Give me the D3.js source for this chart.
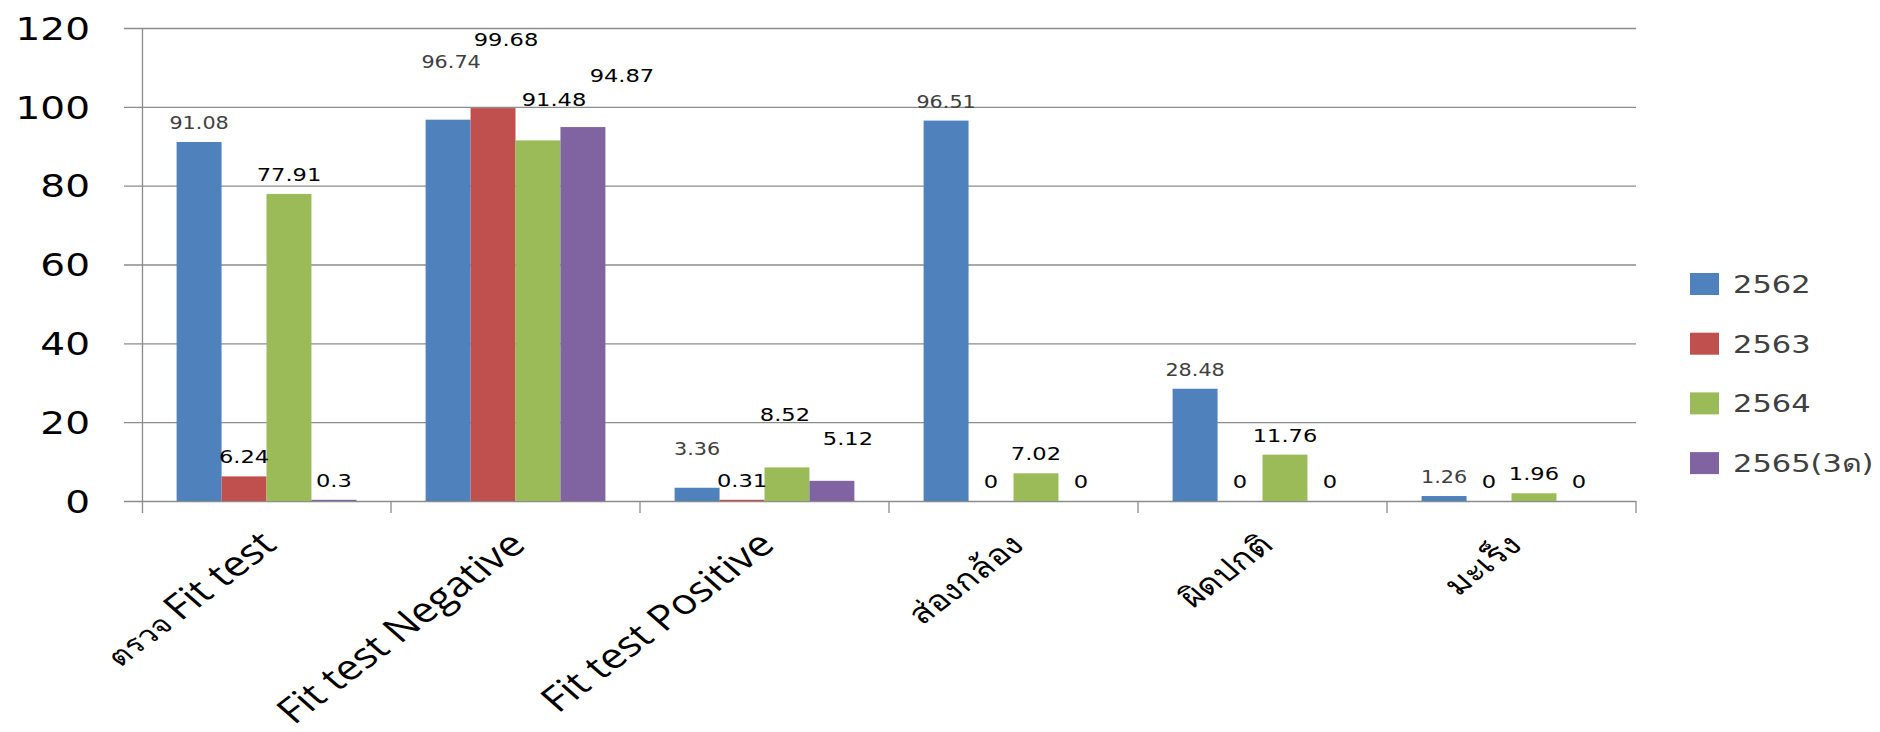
<!DOCTYPE html>
<html>
<head>
<meta charset="utf-8">
<script src="https://cdn.jsdelivr.net/npm/d3@7"></script>
<style>
  body { margin: 0; background: #fff; }
  svg { display: block; }
</style>
</head>
<body>
<div id="vis"></div>
<script>
// data
const categories = ["ตรวจ Fit test", "Fit test Negative", "Fit test Positive", "ส่องกล้อง", "ผิดปกติ", "มะเร็ง"];
const seriesNames = ["2562", "2563", "2564", "2565(3ด)"];
const values2562 = [91.08, 96.74, 3.36, 96.51, 28.48, 1.26];
const values2563 = [6.24, 99.68, 0.31, 0, 0, 0];
const values2564 = [77.91, 91.48, 8.52, 7.02, 11.76, 1.96];
const values2565 = [0.3, 94.87, 5.12, 0, 0, 0];
const yTicks = [0, 20, 40, 60, 80, 100, 120];

const COLORS = ["#4f81bd", "#c0504d", "#9bbb59", "#8064a2"];

// frame
const FRAME_WIDTH = 1880;
const FRAME_HEIGHT = 732;
const PLOT = {left: 142, right: 1636, top: 28, bottom: 501};
const SX = 1.22; // text in the picture is stretched sideways

// labels that were dragged around in the original, [dx, dy]
const LABEL_NUDGE = {
  "0,1": [3, -39], "1,1": [13, -49], "2,1": [16, -21], "3,1": [39, -32],
  "0,2": [0, -20], "2,2": [-2, -33], "3,2": [16, -23]
};

const allSeries = [values2562, values2563, values2564, values2565];

const FRAME = d3.select("#vis")
  .append("svg")
  .attr("width", FRAME_WIDTH)
  .attr("height", FRAME_HEIGHT);

const X_SCALE = d3.scaleBand()
  .domain(categories)
  .range([PLOT.left, PLOT.right])
  .padding(0);

const X_INNER = d3.scaleBand()
  .domain(d3.range(seriesNames.length))
  .range([0, X_SCALE.bandwidth()])
  .paddingInner(0)
  .paddingOuter(0.77);

const Y_SCALE = d3.scaleLinear()
  .domain([0, 120])
  .range([PLOT.bottom, PLOT.top]);

// gridlines
FRAME.append("g")
  .selectAll("line")
  .data(yTicks)
  .enter()
  .append("line")
    .attr("x1", PLOT.left - 18)
    .attr("x2", PLOT.right)
    .attr("y1", (d) => Y_SCALE(d) + 0.5)
    .attr("y2", (d) => Y_SCALE(d) + 0.5)
    .attr("stroke", "#8c8c8c")
    .attr("stroke-width", 1.3);

// y axis
const yAxis = FRAME.append("g")
  .attr("transform", "translate(" + PLOT.left + ",0)")
  .call(d3.axisLeft(Y_SCALE).tickValues(yTicks).tickSize(0).tickPadding(0));
yAxis.select(".domain").remove();
yAxis.selectAll("text")
  .attr("x", 0)
  .attr("dy", "0.35em")
  .attr("transform", "translate(-52,0) scale(" + SX + ",1)")
  .attr("font-family", "DejaVu Sans, Verdana, sans-serif")
  .attr("font-size", 32)
  .attr("fill", "#000");

FRAME.append("line")
  .attr("x1", PLOT.left + 0.5).attr("x2", PLOT.left + 0.5)
  .attr("y1", PLOT.top).attr("y2", PLOT.bottom + 12)
  .attr("stroke", "#8c8c8c")
  .attr("stroke-width", 1.3);

// category separators below the axis
const edges = categories.map((c) => X_SCALE(c)).concat([PLOT.right]);
FRAME.append("g")
  .selectAll("line")
  .data(edges.slice(1))
  .enter()
  .append("line")
    .attr("x1", (d) => d).attr("x2", (d) => d)
    .attr("y1", PLOT.bottom).attr("y2", PLOT.bottom + 12)
    .attr("stroke", "#8c8c8c")
    .attr("stroke-width", 1.3);

// bars
const barData = [];
allSeries.forEach((vals, s) => {
  vals.forEach((v, c) => {
    barData.push({s: s, c: c, value: v});
  });
});

FRAME.append("g")
  .selectAll("rect")
  .data(barData)
  .enter()
  .append("rect")
    .attr("x", (d) => X_SCALE(categories[d.c]) + X_INNER(d.s))
    .attr("y", (d) => Y_SCALE(d.value))
    .attr("width", X_INNER.bandwidth())
    .attr("height", (d) => PLOT.bottom - Y_SCALE(d.value))
    .attr("fill", (d) => COLORS[d.s]);

// bar value labels
FRAME.append("g")
  .selectAll("text")
  .data(barData)
  .enter()
  .append("text")
    .attr("text-anchor", "middle")
    .attr("font-family", "DejaVu Sans, Verdana, sans-serif")
    .attr("font-size", (d) => d.s === 0 ? 17 : 18.5)
    .attr("fill", (d) => d.s === 0 ? "#404040" : "#000")
    .attr("transform", (d) => {
      const nudge = LABEL_NUDGE[d.s + "," + d.c] || [0, 0];
      const cx = X_SCALE(categories[d.c]) + X_INNER(d.s) + X_INNER.bandwidth() / 2 + nudge[0];
      const cy = Y_SCALE(d.value) - 13 + nudge[1];
      return "translate(" + cx + "," + cy + ") scale(" + SX + ",1)";
    })
    .text((d) => String(d.value));

// category labels, rotated
const catLabels = FRAME.append("g")
  .selectAll("text")
  .data(categories)
  .enter()
  .append("text")
    .attr("text-anchor", "end")
    .attr("font-family", "Open Sans, Noto Sans, DejaVu Sans, sans-serif")
    .attr("fill", "#000")
    .attr("transform", (d) => {
      const cx = X_SCALE(d) + X_SCALE.bandwidth() / 2 + 12;
      return "translate(" + cx + ",547) scale(" + SX + ",1) rotate(-43)";
    });

catLabels.each(function(d) {
  const t = d3.select(this);
  const parts = d.split(" ");
  if (/[\u0E00-\u0E7F]/.test(parts[0])) {
    const isMixed = parts.length > 1;
    t.append("tspan").attr("font-size", isMixed ? 26 : 29).text(parts[0] + (isMixed ? " " : ""));
    if (isMixed) {
      t.append("tspan").attr("font-size", 35).text(parts.slice(1).join(" "));
    }
  } else {
    t.append("tspan").attr("font-size", 35).text(d);
  }
});

// legend
const legend = FRAME.append("g")
  .selectAll("g")
  .data(seriesNames)
  .enter()
  .append("g")
    .attr("transform", (d, i) => "translate(1690," + (284 + i * 59.7) + ")");

legend.append("rect")
  .attr("x", 0)
  .attr("y", -11)
  .attr("width", 29)
  .attr("height", 22)
  .attr("fill", (d, i) => COLORS[i]);

legend.append("text")
  .attr("transform", "translate(43,0) scale(" + SX + ",1)")
  .attr("dy", "0.36em")
  .attr("font-family", "DejaVu Sans, Verdana, sans-serif")
  .attr("font-size", 25)
  .attr("fill", "#404040")
  .text((d) => d);
</script>
</body>
</html>
